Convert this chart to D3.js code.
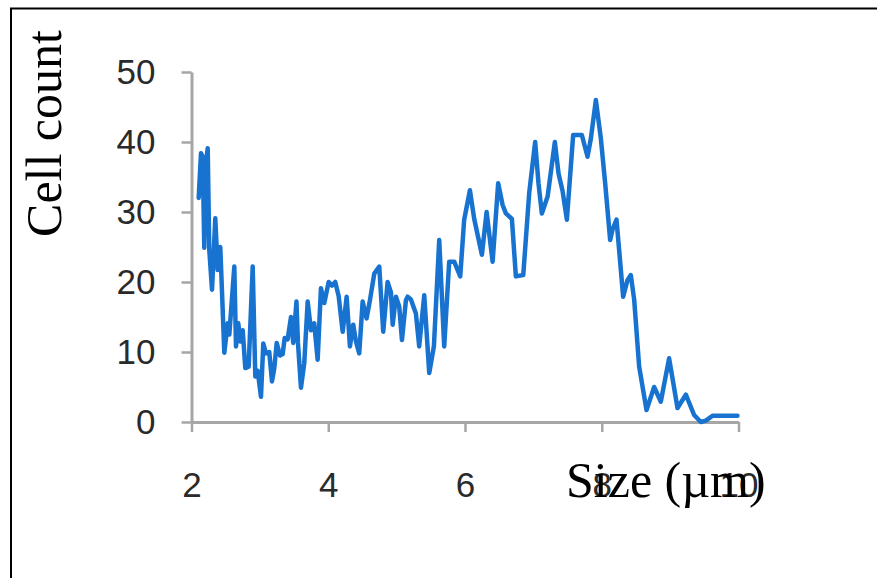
<!DOCTYPE html>
<html>
<head>
<meta charset="utf-8">
<script src="https://cdn.jsdelivr.net/npm/d3@7"></script>
<style>
  html, body { margin: 0; padding: 0; background: #fff; }
  svg { display: block; }
</style>
</head>
<body>
<svg id="chart" width="877" height="578"></svg>
<script>
// cell size (um) vs count
var sizes = [
    2.105, 2.139, 2.164, 2.187, 2.212, 2.237, 2.260, 2.300, 2.348, 2.383, 2.421,
    2.480, 2.529, 2.553, 2.626, 2.651, 2.684, 2.713, 2.749, 2.787, 2.836, 2.895,
    2.933, 2.968, 3.016, 3.050, 3.089, 3.137, 3.177, 3.211, 3.246, 3.294, 3.333,
    3.363, 3.406, 3.455, 3.488, 3.535, 3.557, 3.601, 3.649, 3.699, 3.747, 3.795,
    3.845, 3.893, 3.942, 4.006, 4.054, 4.102, 4.152, 4.211, 4.269, 4.317, 4.365,
    4.405, 4.453, 4.503, 4.561, 4.610, 4.673, 4.746, 4.804, 4.868, 4.917, 4.942,
    4.990, 5.038, 5.078, 5.136, 5.161, 5.209, 5.282, 5.330, 5.404, 5.477, 5.545,
    5.623, 5.696, 5.769, 5.842, 5.930, 5.988, 6.072, 6.135, 6.247, 6.316, 6.404,
    6.485, 6.550, 6.598, 6.686, 6.744, 6.852, 6.939, 7.026, 7.076, 7.124, 7.208,
    7.314, 7.368, 7.427, 7.490, 7.582, 7.709, 7.792, 7.841, 7.914, 7.987, 8.050,
    8.123, 8.158, 8.216, 8.313, 8.377, 8.425, 8.474, 8.547, 8.655, 8.766, 8.864,
    8.985, 9.108, 9.230, 9.351, 9.449, 9.522, 9.620, 9.985
];
var counts = [
    32, 38.4, 37.9, 24.9, 37, 39.1, 24.6, 18.9, 29.1, 21.7, 25,
    9.9, 14.1, 12.5, 22.2, 10.8, 14.1, 11.5, 13.1, 7.7, 7.9, 22.2,
    6.5, 7.3, 3.6, 11.2, 9.8, 10, 5.8, 7.7, 11.3, 9.5, 9.7,
    12, 11.8, 15, 11.3, 17.2, 11.3, 4.9, 8.4, 17.2, 13.1, 14.1,
    8.9, 19.1, 17, 20, 19.5, 20, 18, 12.9, 17.9, 10.8, 13.9,
    11.5, 9.8, 17.2, 14.8, 17.4, 21.2, 22.2, 12.9, 20, 18.5, 13.9,
    17.9, 16.5, 11.7, 17.4, 17.9, 17.5, 15.5, 10.8, 18.1, 7, 10.8,
    26, 10.8, 22.9, 22.9, 20.8, 28.9, 33.1, 29, 23.9, 30, 22.9,
    34.1, 31, 29.8, 29, 20.8, 21, 32.7, 40, 34, 29.8, 32.2,
    40, 35.5, 33, 28.9, 41, 41, 37.9, 40.5, 46, 40.5, 34.1,
    26, 27.5, 28.9, 17.9, 20.3, 21, 17.5, 7.9, 1.7, 5, 2.9,
    9.1, 2, 3.9, 1, 0, 0.2, 0.9, 0.9
];
var xTicks = [2, 4, 6, 8, 10];
var yTicks = [0, 10, 20, 30, 40, 50];

var svg = d3.select('#chart');

// frame: only top and left edges show
svg.append('path')
    .attr('d', 'M11,578 L11,8.5 L877,8.5')
    .attr('fill', 'none')
    .attr('stroke', '#000')
    .attr('stroke-width', 2);

var x = d3.scaleLinear().domain([2, 10]).range([191.5, 738.5]);
var y = d3.scaleLinear().domain([0, 50]).range([422, 72]);

var axisColor = '#a6a6a6';
var tickFont = '"Liberation Sans Narrow", "Liberation Sans", Arial, sans-serif';

var gy = svg.append('g')
    .attr('transform', 'translate(' + x(2) + ',0)')
    .call(d3.axisLeft(y).tickValues(yTicks).tickSize(10).tickSizeOuter(0).tickPadding(26));

var gx = svg.append('g')
    .attr('transform', 'translate(0,' + y(0) + ')')
    .call(d3.axisBottom(x).tickValues(xTicks).tickSize(10).tickSizeOuter(0));

[gx, gy].forEach(function(g) {
    g.select('.domain').attr('stroke', axisColor).attr('stroke-width', 3);
    g.selectAll('.tick line').attr('stroke', axisColor).attr('stroke-width', 2.5);
    g.selectAll('.tick text')
        .attr('fill', '#2a2a2a')
        .style('font-family', tickFont)
        .style('font-size', '35px');
});
gx.selectAll('.tick text').attr('y', 75).attr('dy', 0);

// series line
var line = d3.line()
    .x(function(d, i) { return x(sizes[i]); })
    .y(function(d) { return y(d); });

svg.append('path')
    .datum(counts)
    .attr('d', line)
    .attr('fill', 'none')
    .attr('stroke', '#1773cf')
    .attr('stroke-width', 4.5)
    .attr('stroke-linejoin', 'round')
    .attr('stroke-linecap', 'round');

// axis titles (serif, drawn last like the original so they sit over 8 / 10)
svg.append('text')
    .attr('transform', 'translate(61,133.5) rotate(-90)')
    .attr('text-anchor', 'middle')
    .style('font-family', '"Liberation Serif", "Times New Roman", serif')
    .style('font-size', '50px')
    .attr('fill', '#000')
    .text('Cell count');

svg.append('text')
    .attr('x', 566)
    .attr('y', 497)
    .style('font-family', '"Liberation Serif", "Times New Roman", serif')
    .style('font-size', '50px')
    .attr('fill', '#000')
    .text('Size (µm)');
</script>
</body>
</html>
